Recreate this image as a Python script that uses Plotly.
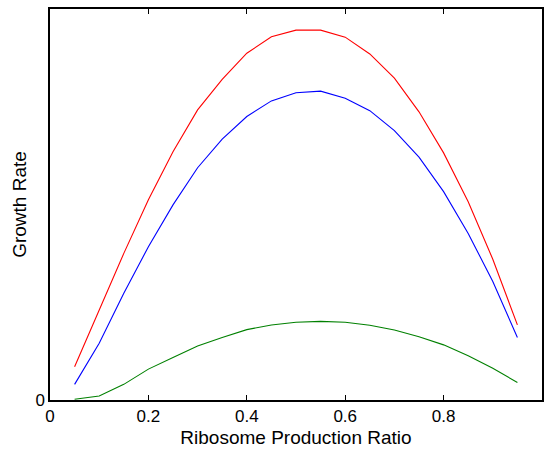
import plotly.graph_objects as go

# Ribosome production ratio sampled every 0.05
ratio = [0.05, 0.10, 0.15, 0.20, 0.25, 0.30, 0.35, 0.40, 0.45, 0.50,
         0.55, 0.60, 0.65, 0.70, 0.75, 0.80, 0.85, 0.90, 0.95]

growth_red = [0.085, 0.230, 0.375, 0.512, 0.635, 0.742, 0.820, 0.887, 0.929, 0.946,
              0.946, 0.928, 0.885, 0.823, 0.737, 0.632, 0.507, 0.360, 0.192]
growth_blue = [0.040, 0.145, 0.273, 0.392, 0.499, 0.594, 0.667, 0.725, 0.765, 0.786,
               0.790, 0.772, 0.740, 0.689, 0.621, 0.533, 0.426, 0.303, 0.160]
growth_green = [0.002, 0.010, 0.040, 0.079, 0.109, 0.138, 0.160, 0.180, 0.192, 0.199,
                0.201, 0.199, 0.191, 0.179, 0.162, 0.141, 0.113, 0.081, 0.045]

x_ticks = [0, 0.2, 0.4, 0.6, 0.8, 1]
x_tick_text = ["0", "0.2", "0.4", "0.6", "0.8", "1"]
y_ticks = [0]
y_tick_text = ["0"]

fig = go.Figure()
for ys, col in [(growth_red, "#ff0000"), (growth_blue, "#0000ff"), (growth_green, "#008000")]:
    fig.add_trace(go.Scatter(x=ratio, y=ys, mode="lines",
                             line=dict(color=col, width=1.1), showlegend=False))

font_family = "Liberation Sans, Arial, sans-serif"
fig.update_layout(
    width=545, height=450,
    margin=dict(l=50, r=1, t=9, b=50),
    paper_bgcolor="white", plot_bgcolor="white",
    font=dict(family=font_family, size=17, color="black"),
)
fig.update_xaxes(
    range=[0, 1], tickvals=x_ticks, ticktext=x_tick_text,
    ticks="inside", ticklen=5, tickwidth=1, tickcolor="black",
    showline=True, linecolor="black", linewidth=1.5, mirror="ticks",
    showgrid=False, zeroline=False,
    tickfont=dict(size=17),
    title=dict(text="Ribosome Production Ratio", font=dict(size=19), standoff=6),
)
fig.update_yaxes(
    range=[0, 1], tickvals=y_ticks, ticktext=y_tick_text,
    ticks="inside", ticklen=5, tickwidth=1, tickcolor="black",
    showline=True, linecolor="black", linewidth=1.5, mirror="ticks",
    showgrid=False, zeroline=False,
    tickfont=dict(size=17),
    title=dict(text="Growth Rate", font=dict(size=19), standoff=4),
)

fig.write_html("out.html")
